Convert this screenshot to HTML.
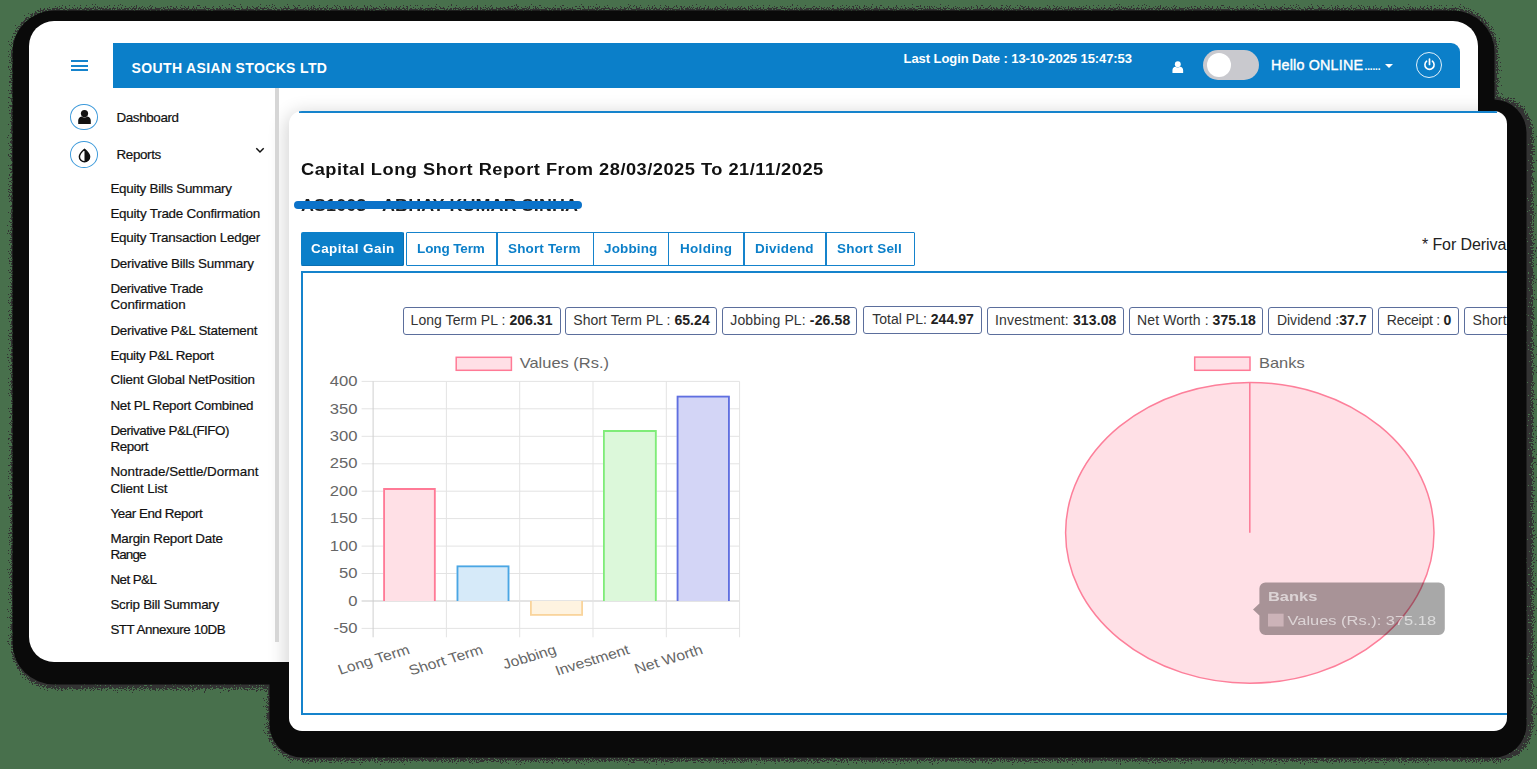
<!DOCTYPE html>
<html>
<head>
<meta charset="utf-8">
<title>Capital Long Short Report</title>
<style>
html,body{margin:0;padding:0;}
body{width:1537px;height:769px;overflow:hidden;background:#48704c;position:relative;font-family:"Liberation Sans",sans-serif;color:#111;}
.abs{position:absolute;}
.t{white-space:nowrap;line-height:1;}
.t b{font-weight:bold;color:#222;}
/* black outer shadows (beneath the cards) */
#sh1{left:29px;top:21px;width:1449px;height:641px;border-radius:25px;background:#0a0a0a;box-shadow:0 6px 0 16.5px #0a0a0a;}
#fr1{left:10.5px;top:7.5px;width:1487.5px;height:681.5px;border-radius:44px;background:#333;filter:url(#dz);}
#sh2{left:289px;top:112px;width:1218px;height:619px;border-radius:14px;background:#0a0a0a;box-shadow:0 7px 0 19.5px #0a0a0a;}
#fr2{left:266.5px;top:96.5px;width:1266px;height:664px;border-radius:36px;background:#333;filter:url(#dz);}
#card1{left:29px;top:21px;width:1449px;height:641px;border-radius:25px;background:#fff;overflow:hidden;}
#card2{left:289px;top:111px;width:1218px;height:620px;border-radius:13px;background:#fff;overflow:hidden;}
/* everything inside the cards is positioned in page coordinates */
#c1in{left:-29px;top:-21px;width:1537px;height:769px;}
#c2in{left:-289px;top:-111px;width:1537px;height:769px;}
#soft2{left:289px;top:112px;width:1218px;height:619px;border-radius:14px;box-shadow:0 4px 18px 4px rgba(0,0,0,.16);}
#hdr{left:113px;top:43px;width:1347px;height:45px;background:#0b7fc9;border-top-right-radius:9px;}
#scroll{left:275.3px;top:88px;width:4.2px;height:554px;background:#d6d6d6;}
#ham i{position:absolute;left:71px;width:17px;height:2px;background:#1583cc;}
#toggle{left:1203px;top:50px;width:56px;height:30px;border-radius:15px;background:#c9c9ce;}
#knob{left:1207px;top:53px;width:24px;height:24px;border-radius:12px;background:#fff;}
#pow{left:1416.3px;top:52.2px;width:24px;height:24px;border-radius:50%;border:1.3px solid #e3f1fa;}
.ic{width:25.6px;height:24.6px;border-radius:50%;border:1.6px solid #3f9bdb;background:#fff;}
/* card 2 */
#topline{left:299px;top:111px;width:1198px;height:2px;background:#1583cc;}
#strike{left:294px;top:201px;width:288px;height:8px;border-radius:4px;background:#0b72c9;}
#tabA{left:301px;top:232px;width:102.5px;height:34px;border-radius:2px;background:#0b7fc9;box-shadow:inset -1px -1px 0 #0a6fb2;}
#tabs{left:406px;top:232px;width:507px;height:31.6px;border:1px solid #1583cc;border-radius:1px;}
.sep{top:232px;width:1.6px;height:33px;background:#1583cc;}
#panel{left:300.5px;top:270.5px;width:1400px;height:440px;border:2px solid #1583cc;}
.chip{top:307px;height:26.4px;border:1.5px solid #5b6e9c;border-radius:3px;background:#fff;box-sizing:content-box;}
</style>
</head>
<body>
<svg width="0" height="0" style="position:absolute"><defs><filter id="dz" x="-2%" y="-3%" width="104%" height="106%" color-interpolation-filters="sRGB">
<feGaussianBlur in="SourceAlpha" stdDeviation="2.2" result="b"/>
<feTurbulence type="fractalNoise" baseFrequency="0.75" numOctaves="1" seed="7" result="n"/>
<feColorMatrix in="n" type="matrix" values="0 0 0 0 0 0 0 0 0 0 0 0 0 0 0 2.4 0 0 0 -0.7" result="na"/>
<feComposite in="b" in2="na" operator="arithmetic" k1="0" k2="1" k3="1" k4="-1" result="s"/>
<feComponentTransfer in="s" result="th"><feFuncA type="discrete" tableValues="0 1 1 1 1 1 1 1 1 1 1 1 1 1 1 1 1 1 1 1 1 1 1 1 1 1 1 1 1 1 1 1 1 1 1 1 1 1 1 1"/></feComponentTransfer>
<feFlood flood-color="#333333" result="f"/>
<feComposite in="f" in2="th" operator="in"/>
</filter></defs></svg>
<div id="fr1" class="abs"></div>
<div id="fr2" class="abs"></div>
<div id="sh1" class="abs"></div>
<div id="sh2" class="abs"></div>

<div id="card1" class="abs"><div id="c1in" class="abs">
  <div id="ham"><i style="top:60px"></i><i style="top:64.5px"></i><i style="top:69px"></i></div>
  <div id="hdr" class="abs"></div>
  <svg class="abs" style="left:1172px;top:60.6px" width="11.6" height="12.6" viewBox="0 0 13 14"><circle cx="6.5" cy="3.6" r="3.3" fill="#fff"/><path d="M0.5 13.5v-3.2c0-2.3 1.7-3.6 3.2-3.9 1.7 1.2 3.9 1.2 5.6 0 1.5.3 3.2 1.6 3.2 3.9v3.2z" fill="#fff"/></svg>
  <div id="toggle" class="abs"></div><div id="knob" class="abs"></div>
  <svg class="abs" style="left:1384px;top:63px" width="10" height="6" viewBox="0 0 10 6"><path d="M1 1h8L5 5z" fill="#fff"/></svg>
  <div id="pow" class="abs"></div>
  <svg class="abs" style="left:1423px;top:58px" width="13" height="14" viewBox="0 0 13 14"><path d="M6.5 1v5.5" stroke="#fff" stroke-width="1.7" stroke-linecap="round" fill="none"/><path d="M3.6 3.2a4.6 4.6 0 1 0 5.8 0" stroke="#fff" stroke-width="1.6" stroke-linecap="round" fill="none"/></svg>
  <div id="soft2" class="abs"></div>
  <div id="scroll" class="abs"></div>
  <div class="abs ic" style="left:70.3px;top:103.6px"></div>
  <svg class="abs" style="left:77.3px;top:109px" width="15" height="16" viewBox="0 0 15 16"><circle cx="7.5" cy="4.6" r="3.6" fill="#111"/><path d="M1.2 15.1v-3.6c0-2.4 1.8-3.8 3.2-4.1 1.9 1.4 4.3 1.4 6.2 0 1.4.3 3.2 1.7 3.2 4.1v3.6z" fill="#111"/></svg>
  <div class="abs ic" style="left:70.3px;top:141.4px"></div>
  <svg class="abs" style="left:77.3px;top:148px" width="15" height="15" viewBox="0 0 15 15"><path d="M7.5 1.2C7.5 1.2 2.4 5.6 2.4 8.7a5.1 5.1 0 0 0 10.2 0C12.6 5.6 7.5 1.2 7.5 1.2z" fill="#fff" stroke="#111" stroke-width="1.5" stroke-linejoin="round"/><path d="M7.5 1.2C7.5 1.2 12.6 5.6 12.6 8.7a5.1 5.1 0 0 1-5.1 5.1z" fill="#111"/></svg>
  <svg class="abs" style="left:255px;top:147px" width="10" height="7" viewBox="0 0 10 7"><path d="M1.3 1.3L5 5l3.7-3.7" stroke="#111" stroke-width="1.5" fill="none"/></svg>
<div class="abs t" id="t0" style="left:131.6px;top:60.7px;font-size:14px;color:#fff;font-weight:bold;letter-spacing:0.349px;">SOUTH ASIAN STOCKS LTD</div>
<div class="abs t" id="t1" style="left:903.6px;top:52.0px;font-size:13px;color:#fff;font-weight:bold;letter-spacing:-0.078px;">Last Login Date : 13-10-2025 15:47:53</div>
<div class="abs t" id="t2" style="left:1271.0px;top:58.2px;font-size:14.3px;color:#fff;letter-spacing:0.200px;-webkit-text-stroke:.4px #fff;">Hello ONLINE</div>
<div class="abs t" id="t3" style="left:1364.5px;top:61.8px;font-size:10px;color:#fff;font-weight:bold;letter-spacing:-0.134px;">......</div>
<div class="abs t" id="t4" style="left:116.5px;top:110.5px;font-size:13.4px;color:#111;letter-spacing:-0.377px;-webkit-text-stroke:.2px #111;">Dashboard</div>
<div class="abs t" id="t5" style="left:116.5px;top:148.0px;font-size:13.4px;color:#111;letter-spacing:-0.365px;-webkit-text-stroke:.2px #111;">Reports</div>
<div class="abs t" id="t6" style="left:110.4px;top:181.7px;font-size:13.4px;color:#111;letter-spacing:-0.258px;-webkit-text-stroke:.2px #111;">Equity Bills Summary</div>
<div class="abs t" id="t7" style="left:110.4px;top:206.7px;font-size:13.4px;color:#111;letter-spacing:-0.205px;-webkit-text-stroke:.2px #111;">Equity Trade Confirmation</div>
<div class="abs t" id="t8" style="left:110.4px;top:231.4px;font-size:13.4px;color:#111;letter-spacing:-0.237px;-webkit-text-stroke:.2px #111;">Equity Transaction Ledger</div>
<div class="abs t" id="t9" style="left:110.4px;top:257.2px;font-size:13.4px;color:#111;letter-spacing:-0.232px;-webkit-text-stroke:.2px #111;">Derivative Bills Summary</div>
<div class="abs t" id="t10" style="left:110.4px;top:282.1px;font-size:13.4px;color:#111;letter-spacing:-0.320px;-webkit-text-stroke:.2px #111;">Derivative Trade</div>
<div class="abs t" id="t11" style="left:110.4px;top:298.3px;font-size:13.4px;color:#111;letter-spacing:-0.066px;-webkit-text-stroke:.2px #111;">Confirmation</div>
<div class="abs t" id="t12" style="left:110.4px;top:323.7px;font-size:13.4px;color:#111;letter-spacing:-0.253px;-webkit-text-stroke:.2px #111;">Derivative P&amp;L Statement</div>
<div class="abs t" id="t13" style="left:110.4px;top:348.5px;font-size:13.4px;color:#111;letter-spacing:-0.373px;-webkit-text-stroke:.2px #111;">Equity P&amp;L Report</div>
<div class="abs t" id="t14" style="left:110.4px;top:373.2px;font-size:13.4px;color:#111;letter-spacing:-0.182px;-webkit-text-stroke:.2px #111;">Client Global NetPosition</div>
<div class="abs t" id="t15" style="left:110.4px;top:399.0px;font-size:13.4px;color:#111;letter-spacing:-0.286px;-webkit-text-stroke:.2px #111;">Net PL Report Combined</div>
<div class="abs t" id="t16" style="left:110.4px;top:424.0px;font-size:13.4px;color:#111;letter-spacing:-0.468px;-webkit-text-stroke:.2px #111;">Derivative P&amp;L(FIFO)</div>
<div class="abs t" id="t17" style="left:110.4px;top:440.2px;font-size:13.4px;color:#111;letter-spacing:-0.421px;-webkit-text-stroke:.2px #111;">Report</div>
<div class="abs t" id="t18" style="left:110.4px;top:465.4px;font-size:13.4px;color:#111;letter-spacing:-0.006px;-webkit-text-stroke:.2px #111;">Nontrade/Settle/Dormant</div>
<div class="abs t" id="t19" style="left:110.4px;top:481.6px;font-size:13.4px;color:#111;letter-spacing:-0.160px;-webkit-text-stroke:.2px #111;">Client List</div>
<div class="abs t" id="t20" style="left:110.4px;top:506.7px;font-size:13.4px;color:#111;letter-spacing:-0.444px;-webkit-text-stroke:.2px #111;">Year End Report</div>
<div class="abs t" id="t21" style="left:110.4px;top:531.7px;font-size:13.4px;color:#111;letter-spacing:-0.256px;-webkit-text-stroke:.2px #111;">Margin Report Date</div>
<div class="abs t" id="t22" style="left:110.4px;top:547.7px;font-size:13.4px;color:#111;letter-spacing:-0.842px;-webkit-text-stroke:.2px #111;">Range</div>
<div class="abs t" id="t23" style="left:110.4px;top:573.0px;font-size:13.4px;color:#111;letter-spacing:-0.562px;-webkit-text-stroke:.2px #111;">Net P&amp;L</div>
<div class="abs t" id="t24" style="left:110.4px;top:598.4px;font-size:13.4px;color:#111;letter-spacing:-0.248px;-webkit-text-stroke:.2px #111;">Scrip Bill Summary</div>
<div class="abs t" id="t25" style="left:110.4px;top:623.4px;font-size:13.4px;color:#111;letter-spacing:-0.449px;-webkit-text-stroke:.2px #111;">STT Annexure 10DB</div>
</div></div>

<div id="card2" class="abs"><div id="c2in" class="abs">
  <div id="topline" class="abs"></div>
  <div id="tabA" class="abs"></div>
  <div id="tabs" class="abs"></div>
  <div class="abs sep" style="left:496px"></div><div class="abs sep" style="left:592.8px"></div><div class="abs sep" style="left:667.8px"></div><div class="abs sep" style="left:743.3px"></div><div class="abs sep" style="left:825.3px"></div>
  <div id="panel" class="abs"></div>
  <div class="abs chip" style="left:402.5px;width:156.3px"></div>
  <div class="abs chip" style="left:565.3px;width:150.1px"></div>
  <div class="abs chip" style="left:722px;width:133.4px"></div>
  <div class="abs chip" style="left:863px;width:117.4px;top:306px"></div>
  <div class="abs chip" style="left:987.3px;width:134.3px"></div>
  <div class="abs chip" style="left:1128.6px;width:132px"></div>
  <div class="abs chip" style="left:1268px;width:103.3px"></div>
  <div class="abs chip" style="left:1378.3px;width:79px"></div>
  <div class="abs chip" style="left:1464.3px;width:120px"></div>
<svg class="abs" style="left:0;top:0" width="1537" height="769" viewBox="0 0 1537 769" font-family="Liberation Sans, sans-serif">
<line x1="361.6" x2="739.6" y1="381.4" y2="381.4" stroke="#e3e3e3" stroke-width="1"/>
<line x1="361.6" x2="739.6" y1="408.8" y2="408.8" stroke="#e3e3e3" stroke-width="1"/>
<line x1="361.6" x2="739.6" y1="436.3" y2="436.3" stroke="#e3e3e3" stroke-width="1"/>
<line x1="361.6" x2="739.6" y1="463.8" y2="463.8" stroke="#e3e3e3" stroke-width="1"/>
<line x1="361.6" x2="739.6" y1="491.2" y2="491.2" stroke="#e3e3e3" stroke-width="1"/>
<line x1="361.6" x2="739.6" y1="518.6" y2="518.6" stroke="#e3e3e3" stroke-width="1"/>
<line x1="361.6" x2="739.6" y1="546.1" y2="546.1" stroke="#e3e3e3" stroke-width="1"/>
<line x1="361.6" x2="739.6" y1="573.5" y2="573.5" stroke="#e3e3e3" stroke-width="1"/>
<line x1="361.6" x2="739.6" y1="601.0" y2="601.0" stroke="#c9c9c9" stroke-width="1"/>
<line x1="361.6" x2="739.6" y1="628.4" y2="628.4" stroke="#e3e3e3" stroke-width="1"/>
<line x1="373.1" x2="373.1" y1="381.4" y2="637.3" stroke="#cfcfcf" stroke-width="1"/>
<line x1="446.4" x2="446.4" y1="381.4" y2="637.3" stroke="#e3e3e3" stroke-width="1"/>
<line x1="519.7" x2="519.7" y1="381.4" y2="637.3" stroke="#e3e3e3" stroke-width="1"/>
<line x1="593.0" x2="593.0" y1="381.4" y2="637.3" stroke="#e3e3e3" stroke-width="1"/>
<line x1="666.3" x2="666.3" y1="381.4" y2="637.3" stroke="#e3e3e3" stroke-width="1"/>
<line x1="739.6" x2="739.6" y1="381.4" y2="637.3" stroke="#e3e3e3" stroke-width="1"/>
<rect x="383.2" y="488.1" width="52.5" height="112.9" fill="#ffe0e6"/>
<path d="M384.1 601.0V489.0H434.8V601.0" fill="none" stroke="#ff7a96" stroke-width="1.8"/>
<rect x="456.6" y="565.4" width="52.8" height="35.6" fill="#d6eaf9"/>
<path d="M457.5 601.0V566.3H508.5V601.0" fill="none" stroke="#4aa6e4" stroke-width="1.8"/>
<rect x="530.0" y="601.0" width="53.0" height="14.7" fill="#fef3e0"/>
<path d="M530.9 601.0V614.8H582.1V601.0" fill="none" stroke="#f9d49c" stroke-width="1.8"/>
<rect x="603.0" y="430.1" width="53.7" height="170.9" fill="#dcf8da"/>
<path d="M603.9 601.0V431.0H655.8V601.0" fill="none" stroke="#7fec78" stroke-width="1.8"/>
<rect x="676.7" y="395.7" width="53.1" height="205.3" fill="#d3d5f6"/>
<path d="M677.6 601.0V396.6H728.9V601.0" fill="none" stroke="#5f6fe0" stroke-width="1.8"/>
<text transform="translate(357.4,386.1) scale(1.17,1)" text-anchor="end" font-size="14.2" fill="#666">400</text>
<text transform="translate(357.4,413.5) scale(1.17,1)" text-anchor="end" font-size="14.2" fill="#666">350</text>
<text transform="translate(357.4,441.0) scale(1.17,1)" text-anchor="end" font-size="14.2" fill="#666">300</text>
<text transform="translate(357.4,468.4) scale(1.17,1)" text-anchor="end" font-size="14.2" fill="#666">250</text>
<text transform="translate(357.4,495.9) scale(1.17,1)" text-anchor="end" font-size="14.2" fill="#666">200</text>
<text transform="translate(357.4,523.4) scale(1.17,1)" text-anchor="end" font-size="14.2" fill="#666">150</text>
<text transform="translate(357.4,550.8) scale(1.17,1)" text-anchor="end" font-size="14.2" fill="#666">100</text>
<text transform="translate(357.4,578.2) scale(1.17,1)" text-anchor="end" font-size="14.2" fill="#666">50</text>
<text transform="translate(357.4,605.7) scale(1.17,1)" text-anchor="end" font-size="14.2" fill="#666">0</text>
<text transform="translate(357.4,633.1) scale(1.17,1)" text-anchor="end" font-size="14.2" fill="#666">-50</text>
<rect x="456.2" y="357.3" width="55.2" height="13" fill="#ffe0e6" stroke="#ff7a96" stroke-width="1.5"/>
<text transform="translate(519.7,367.8) scale(1.16,1)" font-size="14.2" fill="#666">Values (Rs.)</text>
<text transform="translate(410.6,653.4) scale(1.13,1) rotate(-19)" text-anchor="end" font-size="14" fill="#666">Long Term</text>
<text transform="translate(483.9,653.4) scale(1.13,1) rotate(-19)" text-anchor="end" font-size="14" fill="#666">Short Term</text>
<text transform="translate(557.2,653.4) scale(1.13,1) rotate(-19)" text-anchor="end" font-size="14" fill="#666">Jobbing</text>
<text transform="translate(630.5,653.4) scale(1.13,1) rotate(-19)" text-anchor="end" font-size="14" fill="#666">Investment</text>
<text transform="translate(703.8,653.4) scale(1.13,1) rotate(-19)" text-anchor="end" font-size="14" fill="#666">Net Worth</text>
<ellipse cx="1249.8" cy="532.8" rx="184.2" ry="150.4" fill="#ffe0e6" stroke="#fd7f9a" stroke-width="1.5"/>
<line x1="1249.8" x2="1249.8" y1="382.4" y2="532.8" stroke="#fd7f9a" stroke-width="1.6"/>
<rect x="1194.7" y="357.1" width="55.3" height="13.2" fill="#ffe0e6" stroke="#ff7a96" stroke-width="1.5"/>
<text transform="translate(1259,367.8) scale(1.16,1)" font-size="14.2" fill="#666">Banks</text>
<g opacity="0.34"><path d="M1265.4 582.4h173.4a6 6 0 0 1 6 6v40.6a6 6 0 0 1-6 6h-173.4a6 6 0 0 1-6-6v-13.6l-6.4-6 6.4-6v-15a6 6 0 0 1 6-6z" fill="#000"/></g>
<rect x="1268" y="613.7" width="15.6" height="12.8" fill="#ffe0e6" opacity="0.42"/>
<text transform="translate(1268,600.7) scale(1.2,1)" font-size="13.7" font-weight="bold" fill="#fff" opacity="0.6">Banks</text>
<text transform="translate(1287.5,624.6) scale(1.2,1)" font-size="13.7" fill="#fff" opacity="0.6">Values (Rs.): 375.18</text>
</svg>
<div class="abs t" id="t26" style="left:300.8px;top:162.0px;font-size:16px;color:#111;font-weight:bold;letter-spacing:0.436px;transform:scaleX(1.14);transform-origin:0 0;">Capital Long Short Report From 28/03/2025 To 21/11/2025</div>
<div class="abs t" id="t27" style="left:301.0px;top:198.0px;font-size:16px;color:#222;font-weight:bold;letter-spacing:0.101px;transform:scaleX(1.12);transform-origin:0 0;">AS1003 - ABHAY KUMAR SINHA</div>
<div class="abs t" id="t28" style="left:310.7px;top:242.8px;font-size:12.6px;color:#fff;font-weight:bold;letter-spacing:0.397px;transform:scaleX(1.07);transform-origin:0 0;">Capital Gain</div>
<div class="abs t" id="t29" style="left:417.2px;top:242.8px;font-size:12.6px;color:#0b7fc9;font-weight:bold;letter-spacing:-0.097px;transform:scaleX(1.07);transform-origin:0 0;">Long Term</div>
<div class="abs t" id="t30" style="left:508.4px;top:242.8px;font-size:12.6px;color:#0b7fc9;font-weight:bold;letter-spacing:0.157px;transform:scaleX(1.07);transform-origin:0 0;">Short Term</div>
<div class="abs t" id="t31" style="left:603.5px;top:242.8px;font-size:12.6px;color:#0b7fc9;font-weight:bold;letter-spacing:0.141px;transform:scaleX(1.07);transform-origin:0 0;">Jobbing</div>
<div class="abs t" id="t32" style="left:679.7px;top:242.8px;font-size:12.6px;color:#0b7fc9;font-weight:bold;letter-spacing:0.303px;transform:scaleX(1.07);transform-origin:0 0;">Holding</div>
<div class="abs t" id="t33" style="left:755.0px;top:242.8px;font-size:12.6px;color:#0b7fc9;font-weight:bold;letter-spacing:0.226px;transform:scaleX(1.07);transform-origin:0 0;">Dividend</div>
<div class="abs t" id="t34" style="left:837.3px;top:242.8px;font-size:12.6px;color:#0b7fc9;font-weight:bold;letter-spacing:0.198px;transform:scaleX(1.07);transform-origin:0 0;">Short Sell</div>
<div class="abs t" id="t35" style="left:1421.9px;top:237.1px;font-size:16px;color:#222;letter-spacing:-0.087px;">* For Deriva</div>
<div class="abs t" id="t36" style="left:410.6px;top:313.3px;font-size:14px;color:#333;letter-spacing:0.050px;">Long Term PL : <b>206.31</b></div>
<div class="abs t" id="t37" style="left:573.3px;top:313.3px;font-size:14px;color:#333;letter-spacing:0.049px;">Short Term PL : <b>65.24</b></div>
<div class="abs t" id="t38" style="left:730.3px;top:313.3px;font-size:14px;color:#333;letter-spacing:0.144px;">Jobbing PL: <b>-26.58</b></div>
<div class="abs t" id="t39" style="left:872.2px;top:312.3px;font-size:14px;color:#333;letter-spacing:0.023px;">Total PL: <b>244.97</b></div>
<div class="abs t" id="t40" style="left:995.1px;top:313.3px;font-size:14px;color:#333;letter-spacing:0.130px;">Investment: <b>313.08</b></div>
<div class="abs t" id="t41" style="left:1137.1px;top:313.3px;font-size:14px;color:#333;letter-spacing:0.090px;">Net Worth : <b>375.18</b></div>
<div class="abs t" id="t42" style="left:1276.9px;top:313.3px;font-size:14px;color:#333;letter-spacing:0.006px;">Dividend :<b>37.7</b></div>
<div class="abs t" id="t43" style="left:1386.8px;top:313.3px;font-size:14px;color:#333;letter-spacing:-0.234px;">Receipt : <b>0</b></div>
<div class="abs t" id="t44" style="left:1472.4px;top:313.3px;font-size:14px;color:#333;letter-spacing:0.184px;">Short Term <b>Tax</b></div>
  <div id="strike" class="abs"></div>
</div></div>
</body>
</html>
